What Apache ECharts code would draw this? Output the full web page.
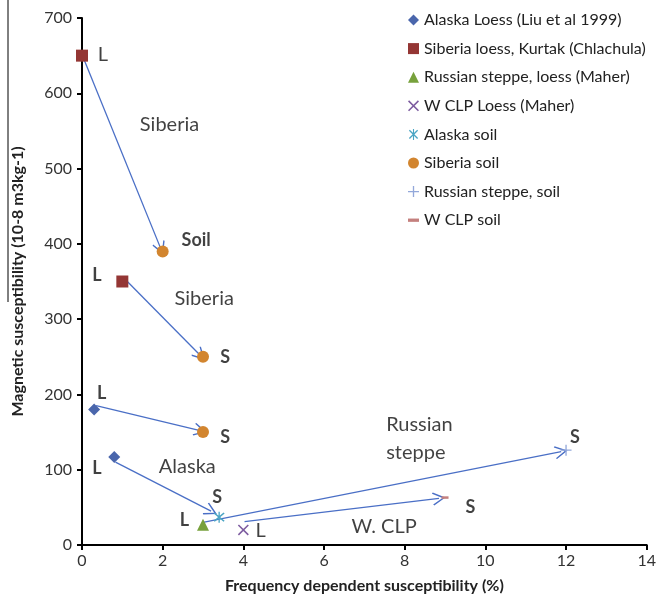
<!DOCTYPE html>
<html>
<head>
<meta charset="utf-8">
<script src="https://cdn.jsdelivr.net/npm/echarts@6/dist/echarts.min.js"></script>
<style>
  html, body { margin: 0; padding: 0; background: #fff; }
  #main { width: 659px; height: 599px; }
</style>
</head>
<body>
<div id="main"></div>
<script>
// points: [freq dependent %, susceptibility]
var alaskaLoess = [[0.3, 180], [0.8, 117]];
var siberiaLoess = [[0, 650], [1, 350]];
var russianLoess = [[3, 27]];
var clpLoess = [[4, 20]];
var alaskaSoil = [[3.4, 37]];
var siberiaSoil = [[2, 390], [3, 250], [3, 150]];
var russianSoil = [[12, 126]];
var clpSoil = [[9, 63]];

// loess -> soil arrows
var arrows = [
    [[0.05, 645], [1.95, 394]],
    [[1.05, 354], [2.93, 252]],
    [[0.35, 185], [2.93, 152]],
    [[0.83, 110], [3.2, 45]],
    [[3.0, 30], [11.88, 124]],
    [[4.03, 31], [8.85, 62]]
];

// annotation texts [x, y, text]
var plainNotes = [
    [0.52, 651, 'L'],
    [2.17, 558, 'Siberia'],
    [3.03, 328, 'Siberia'],
    [2.61, 104, 'Alaska'],
    [4.43, 19, 'L'],
    [7.49, 25, 'W. CLP']
];
var boldNotes = [
    [2.83, 405, 'Soil'],
    [0.37, 359, 'L'],
    [3.55, 250, 'S'],
    [0.49, 202, 'L'],
    [3.55, 143, 'S'],
    [0.37, 102, 'L'],
    [3.35, 64, 'S'],
    [2.54, 33, 'L'],
    [12.22, 143, 'S'],
    [9.63, 50, 'S']
];
var steppeNote = [[7.54, 141, 'Russian\nsteppe']];

var xTicks = [0, 14, 2];
var yTicks = [0, 700, 100];

var font = 'Lato, "Noto Sans", sans-serif';

var X_PATH = 'path://M0,1 L1,0 L10,9 L9,10 Z M9,0 L10,1 L1,10 L0,9 Z';
var STAR_PATH = 'path://M0,1 L1,0 L10,9 L9,10 Z M9,0 L10,1 L1,10 L0,9 Z M4.4,-1 L5.6,-1 L5.6,11 L4.4,11 Z';
var PLUS_PATH = 'path://M4.4,0 L5.6,0 L5.6,10 L4.4,10 Z M0,4.4 L10,4.4 L10,5.6 L0,5.6 Z';
var DASH_PATH = 'path://M0,0 L10,0 L10,3 L0,3 Z';
var OPEN_ARROW = 'path://M10,0 L20,18 L18.4,19.5 L10,4.5 L1.6,19.5 L0,18 Z';

function pointSeries(name, data, symbol, size, color) {
    return {
        name: name,
        type: 'scatter',
        data: data,
        symbol: symbol,
        symbolSize: size,
        itemStyle: { color: color, opacity: 1 },
        z: 5
    };
}

function noteSeries(data, weight, size, align) {
    return {
        type: 'scatter',
        data: data,
        symbolSize: 1,
        itemStyle: { color: 'rgba(0,0,0,0)' },
        silent: true,
        z: 6,
        label: {
            show: true,
            position: 'inside',
            formatter: function (p) { return p.value[2]; },
            fontFamily: font,
            fontWeight: weight,
            fontSize: size,
            color: '#111',
            align: align || 'center',
            lineHeight: 28
        }
    };
}

var names = [
    'Alaska Loess (Liu et al 1999)',
    'Siberia loess, Kurtak (Chlachula)',
    'Russian steppe, loess (Maher)',
    'W CLP Loess (Maher)',
    'Alaska soil',
    'Siberia soil',
    'Russian steppe, soil',
    'W CLP soil'
];

var myChart = echarts.init(document.getElementById('main'));

myChart.setOption({
    animation: false,
    textStyle: { fontFamily: font },
    grid: { left: 82, right: 9, top: 18, bottom: 54 },
    legend: {
        data: names,
        orient: 'vertical',
        left: 403,
        top: 7,
        itemWidth: 11,
        itemHeight: 11,
        itemGap: 12.6,
        textStyle: { fontFamily: font, fontSize: 16, color: '#222' }
    },
    xAxis: {
        type: 'value',
        min: xTicks[0],
        max: xTicks[1],
        interval: xTicks[2],
        name: 'Frequency dependent susceptibility (%)',
        nameLocation: 'middle',
        nameGap: 33,
        nameTextStyle: { fontFamily: font, fontWeight: 'bold', fontSize: 16, color: '#222' },
        axisLine: { lineStyle: { color: '#000', width: 2 } },
        axisTick: { length: 5, lineStyle: { color: '#000', width: 2 } },
        axisLabel: { fontFamily: font, fontSize: 16, color: '#333', margin: 8 },
        splitLine: { show: false }
    },
    yAxis: {
        type: 'value',
        min: yTicks[0],
        max: yTicks[1],
        interval: yTicks[2],
        name: 'Magnetic susceptibility (10-8 m3kg-1)',
        nameLocation: 'middle',
        nameRotate: 90,
        nameGap: 56,
        nameTextStyle: { fontFamily: font, fontWeight: 'bold', fontSize: 16, color: '#222' },
        axisLine: { lineStyle: { color: '#000', width: 2 } },
        axisTick: { length: 5, lineStyle: { color: '#000', width: 2 } },
        axisLabel: { fontFamily: font, fontSize: 16, color: '#333', margin: 10 },
        splitLine: { show: false }
    },
    graphic: [{
        type: 'line',
        shape: { x1: 8, y1: 0, x2: 8, y2: 302 },
        style: { stroke: '#000', lineWidth: 1 },
        silent: true
    }],
    series: [
        {
            type: 'lines',
            coordinateSystem: 'cartesian2d',
            data: arrows.map(function (a) { return { coords: a }; }),
            symbol: ['none', OPEN_ARROW],
            symbolSize: [0, 13],
            lineStyle: { color: '#4A6FC6', width: 1.3, opacity: 1 },
            silent: true,
            z: 3
        },
        pointSeries(names[0], alaskaLoess, 'diamond', 12, '#4A66AC'),
        pointSeries(names[1], siberiaLoess, 'rect', 12, '#943634'),
        pointSeries(names[2], russianLoess, 'triangle', 12, '#77A13C'),
        pointSeries(names[3], clpLoess, X_PATH, 11, '#7D5CA0'),
        pointSeries(names[4], alaskaSoil, STAR_PATH, 11, '#4AA5C4'),
        pointSeries(names[5], siberiaSoil, 'circle', 12, '#D2852F'),
        pointSeries(names[6], russianSoil, PLUS_PATH, 11, '#93A8DA'),
        pointSeries(names[7], clpSoil, DASH_PATH, [7, 2.5], '#C4807E'),
        noteSeries(plainNotes, 'normal', 20),
        noteSeries(boldNotes, 'bold', 18),
        noteSeries(steppeNote, 'normal', 20, 'left')
    ]
});
</script>
</body>
</html>
